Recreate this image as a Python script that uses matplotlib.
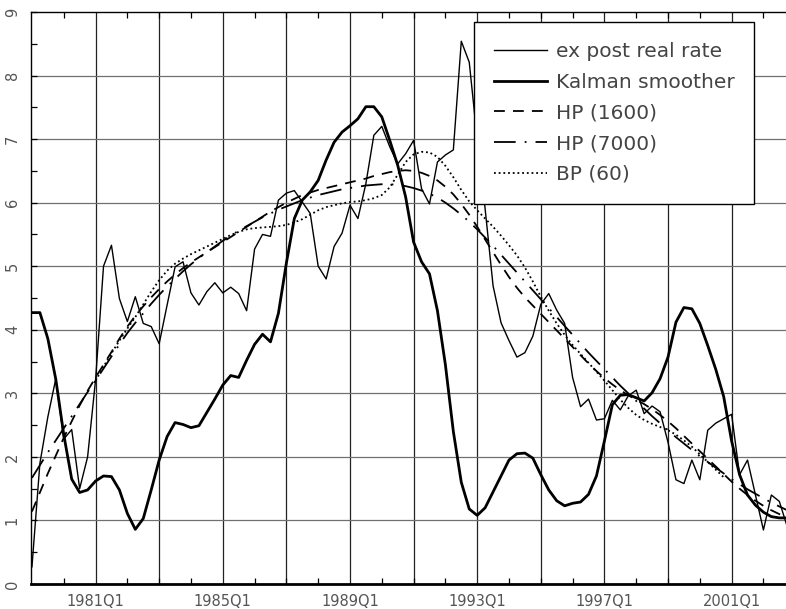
import numpy as np
import matplotlib
matplotlib.use('Agg')
import matplotlib.pyplot as plt

# quarterly data, 1979Q1 .. 2002Q4
start_year = 1979
ex_post = [0.27, 1.90, 2.63, 3.23, 2.28, 2.43, 1.50, 2.00, 3.21, 5.00, 5.33, 4.49,
           4.13, 4.52, 4.10, 4.05, 3.78, 4.39, 4.99, 5.07, 4.58, 4.39, 4.60, 4.74,
           4.58, 4.67, 4.57, 4.30, 5.27, 5.50, 5.47, 6.04, 6.15, 6.19, 6.01, 5.83,
           5.00, 4.80, 5.31, 5.52, 5.96, 5.75, 6.30, 7.06, 7.20, 6.88, 6.61, 6.77,
           6.98, 6.22, 5.98, 6.64, 6.75, 6.83, 8.54, 8.21, 7.00, 5.90, 4.69, 4.11,
           3.83, 3.57, 3.64, 3.90, 4.40, 4.57, 4.31, 4.10, 3.25, 2.79, 2.91, 2.58,
           2.60, 2.89, 2.74, 2.96, 3.05, 2.68, 2.80, 2.71, 2.23, 1.64, 1.58, 1.95,
           1.64, 2.42, 2.53, 2.60, 2.67, 1.72, 1.95, 1.40, 0.85, 1.40, 1.30, 0.90]
kalman = [4.27, 4.27, 3.86, 3.22, 2.35, 1.65, 1.44, 1.48, 1.62, 1.70, 1.69, 1.48,
          1.11, 0.86, 1.03, 1.48, 1.95, 2.32, 2.54, 2.51, 2.46, 2.49, 2.70, 2.91,
          3.13, 3.28, 3.25, 3.52, 3.77, 3.93, 3.81, 4.26, 5.05, 5.75, 6.04, 6.17,
          6.35, 6.67, 6.95, 7.11, 7.21, 7.32, 7.51, 7.51, 7.35, 6.98, 6.59, 6.09,
          5.38, 5.07, 4.88, 4.30, 3.45, 2.40, 1.60, 1.18, 1.08, 1.20, 1.45, 1.70,
          1.95, 2.05, 2.06, 1.98, 1.72, 1.48, 1.31, 1.23, 1.27, 1.29, 1.41, 1.70,
          2.25, 2.82, 2.97, 2.98, 2.93, 2.88, 3.01, 3.23, 3.57, 4.12, 4.35, 4.33,
          4.10, 3.75, 3.38, 2.95, 2.25, 1.72, 1.40, 1.24, 1.13, 1.06, 1.04, 1.04]
hp1600 = [1.14, 1.44, 1.74, 2.02, 2.30, 2.56, 2.81, 3.04, 3.25, 3.45, 3.65, 3.86,
          4.05, 4.22, 4.37, 4.51, 4.64, 4.76, 4.87, 4.97, 5.06, 5.14, 5.22, 5.30,
          5.38, 5.46, 5.54, 5.62, 5.70, 5.78, 5.86, 5.93, 6.00, 6.06, 6.12, 6.16,
          6.20, 6.23, 6.26, 6.29, 6.32, 6.35, 6.38, 6.42, 6.45, 6.48, 6.50, 6.51,
          6.50, 6.47, 6.42, 6.35, 6.25, 6.13, 5.98, 5.81, 5.62, 5.42, 5.22, 5.02,
          4.83, 4.66, 4.51, 4.38, 4.25, 4.12, 3.99, 3.86, 3.73, 3.60, 3.47, 3.35,
          3.24, 3.14, 3.05, 2.97, 2.90, 2.83, 2.75, 2.66, 2.56, 2.45, 2.33, 2.21,
          2.09, 1.97, 1.85, 1.73, 1.61, 1.50, 1.40, 1.31, 1.23, 1.16, 1.10, 1.05]
hp7000 = [1.67, 1.87, 2.07, 2.26, 2.45, 2.64, 2.83, 3.02, 3.20, 3.39, 3.58, 3.77,
          3.95, 4.11, 4.26, 4.41, 4.55, 4.68, 4.80, 4.92, 5.03, 5.13, 5.22, 5.31,
          5.40, 5.48, 5.56, 5.63, 5.70, 5.77, 5.83, 5.89, 5.94, 5.99, 6.04, 6.08,
          6.12, 6.15, 6.18, 6.21, 6.23, 6.25, 6.27, 6.28, 6.29, 6.29, 6.28, 6.26,
          6.23, 6.19, 6.14, 6.08, 6.00, 5.91, 5.81, 5.70, 5.58, 5.45, 5.32, 5.18,
          5.04, 4.90, 4.76, 4.62, 4.48, 4.34, 4.20, 4.06, 3.92, 3.78, 3.64, 3.51,
          3.38, 3.25, 3.12, 3.00, 2.88, 2.76, 2.64, 2.53, 2.42, 2.31, 2.21, 2.11,
          2.01, 1.92, 1.83, 1.74, 1.65, 1.57, 1.49, 1.42, 1.35, 1.28, 1.22, 1.16]
bp_first = 8  # band-pass starts at 1981Q1
bp60 = [3.20, 3.42, 3.63, 3.83, 4.02, 4.20, 4.40, 4.60, 4.78, 4.93, 5.04, 5.12,
        5.19, 5.25, 5.31, 5.37, 5.43, 5.49, 5.54, 5.58, 5.60, 5.61, 5.62, 5.63,
        5.65, 5.69, 5.74, 5.81, 5.88, 5.93, 5.96, 5.99, 6.01, 6.02, 6.04, 6.07,
        6.12, 6.24, 6.44, 6.64, 6.76, 6.80, 6.79, 6.72, 6.58, 6.40, 6.20, 6.02,
        5.88, 5.75, 5.62, 5.48, 5.33, 5.17, 4.98, 4.76, 4.52, 4.30, 4.10, 3.92,
        3.76, 3.62, 3.48, 3.34, 3.20, 3.05, 2.90, 2.77, 2.66, 2.58, 2.52, 2.47,
        2.42, 2.35, 2.26, 2.16, 2.04, 1.92, 1.80, 1.68]

labels = ['ex post real rate', 'Kalman smoother', 'HP (1600)', 'HP (7000)', 'BP (60)']
tick_years = [1981, 1985, 1989, 1993, 1997, 2001]

t = start_year + np.arange(len(ex_post)) / 4.0
t_bp = start_year + (bp_first + np.arange(len(bp60))) / 4.0

fig = plt.figure(figsize=(7.86, 6.09), dpi=100)
ax = fig.add_axes([31 / 786, 25 / 609, 1 - 31 / 786, 572 / 609])

# grid
for yr in range(1981, 2003, 2):
    ax.axvline(yr, color='#222222', lw=0.9, zorder=1)
for v in range(1, 9):
    ax.axhline(v, color='#707070', lw=0.9, zorder=1)

ax.plot(t, ex_post, color='black', lw=1.0, label=labels[0], zorder=4)
ax.plot(t, kalman, color='black', lw=2.0, label=labels[1], zorder=4)
ax.plot(t, hp1600, color='black', lw=1.3, dashes=(6, 4.5), label=labels[2], zorder=3)
ax.plot(t, hp7000, color='black', lw=1.3, dashes=(12, 5, 1, 5), label=labels[3], zorder=3)
ax.plot(t_bp, bp60, color='black', lw=1.3, dashes=(1, 1.6), label=labels[4], zorder=3)

ax.set_xlim(1978.97, 2002.71)
ax.set_ylim(0, 9)

ax.set_xticks([float(y) for y in tick_years])
ax.set_xticklabels(['%dQ1' % y for y in tick_years])
ax.set_xticks(np.arange(1980, 2003, 1.0), minor=True)
ax.set_yticks(range(0, 10))
ax.set_yticks(np.arange(0.5, 9, 1.0), minor=True)

ax.tick_params(axis='x', which='both', direction='in', top=True, bottom=True,
               length=4, width=0.9, colors='black', labelcolor='#555555',
               labelsize=10.5, pad=7)
ax.tick_params(axis='x', which='major', length=0)
ax.tick_params(axis='y', which='both', direction='in', left=True, right=False,
               length=4, width=0.9, labelcolor='#555555', labelsize=10.5, pad=8)
for lab in ax.get_yticklabels():
    lab.set_rotation(90)
    lab.set_va('center')

ax.spines['right'].set_visible(False)
ax.spines['bottom'].set_linewidth(2.0)
ax.spines['top'].set_linewidth(1.0)
ax.spines['left'].set_linewidth(1.0)

leg = ax.legend(loc='upper left', bbox_to_anchor=((474 - 31) / 755, (584 - 22) / 572),
                borderaxespad=0, fancybox=False, framealpha=1, edgecolor='black',
                fontsize=14.5, handlelength=2.6, handletextpad=0.45,
                labelspacing=0.58, borderpad=1.0, labelcolor='#444444')
leg.get_frame().set_linewidth(1.0)
leg.set_zorder(10)

fig.savefig('out.png', dpi=100)
